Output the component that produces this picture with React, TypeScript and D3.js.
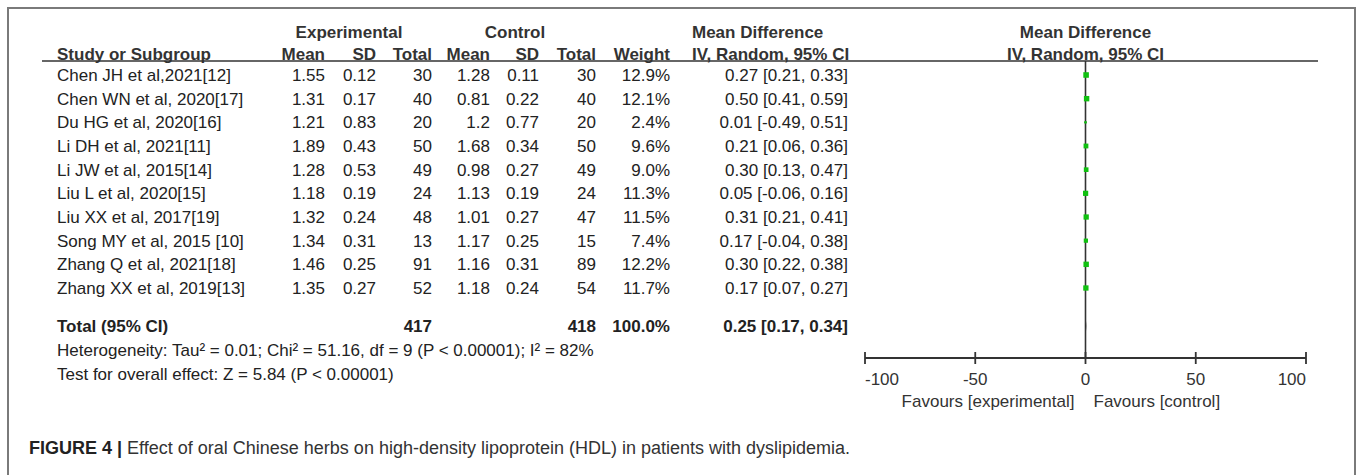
import React from 'react';
import { scaleLinear } from 'd3';

const studies = [
  'Chen JH et al,2021[12]',
  'Chen WN et al, 2020[17]',
  'Du HG et al, 2020[16]',
  'Li DH et al, 2021[11]',
  'Li JW et al, 2015[14]',
  'Liu L et al, 2020[15]',
  'Liu XX et al, 2017[19]',
  'Song MY et al, 2015 [10]',
  'Zhang Q et al, 2021[18]',
  'Zhang XX et al, 2019[13]',
];
const expMean = [1.55, 1.31, 1.21, 1.89, 1.28, 1.18, 1.32, 1.34, 1.46, 1.35];
const expSD = [0.12, 0.17, 0.83, 0.43, 0.53, 0.19, 0.24, 0.31, 0.25, 0.27];
const expN = [30, 40, 20, 50, 49, 24, 48, 13, 91, 52];
const ctrlMean = [1.28, 0.81, 1.2, 1.68, 0.98, 1.13, 1.01, 1.17, 1.16, 1.18];
const ctrlSD = [0.11, 0.22, 0.77, 0.34, 0.27, 0.19, 0.27, 0.25, 0.31, 0.24];
const ctrlN = [30, 40, 20, 50, 49, 24, 47, 15, 89, 54];
const weights = [12.9, 12.1, 2.4, 9.6, 9.0, 11.3, 11.5, 7.4, 12.2, 11.7];
const md = [0.27, 0.5, 0.01, 0.21, 0.3, 0.05, 0.31, 0.17, 0.3, 0.17];
const ciLo = [0.21, 0.41, -0.49, 0.06, 0.13, -0.06, 0.21, -0.04, 0.22, 0.07];
const ciHi = [0.33, 0.59, 0.51, 0.36, 0.47, 0.16, 0.41, 0.38, 0.38, 0.27];

const total = { expN: 417, ctrlN: 418, weight: 100.0, md: 0.25, lo: 0.17, hi: 0.34 };
const axisTicks = [-100, -50, 0, 50, 100];

const heterogeneity = 'Heterogeneity: Tau² = 0.01; Chi² = 51.16, df = 9 (P < 0.00001); I² = 82%';
const overall = 'Test for overall effect: Z = 5.84 (P < 0.00001)';
const caption = 'Effect of oral Chinese herbs on high-density lipoprotein (HDL) in patients with dyslipidemia.';

const W = 1357;
const H = 475;
const font = '"Liberation Sans", Arial, sans-serif';

// right edges of the numeric columns
const col = { study: 57, eMean: 325, eSD: 376, eN: 432, cMean: 490, cSD: 539, cN: 596, w: 670, ci: 848, ciHead: 692 };

const fmtCI = (m: number, l: number, h: number) => `${m.toFixed(2)} [${l.toFixed(2)}, ${h.toFixed(2)}]`;

export default function App() {
  const x = scaleLinear().domain([-100, 100]).range([865, 1306]);
  const y = scaleLinear().domain([0, studies.length - 1]).range([75, 288]);
  const axisY = 358;
  const ruleY = 61;

  const num = (v: string | number, xr: number, yy: number, bold = false) => (
    <text x={xr} y={yy} dy="0.35em" textAnchor="end" fontWeight={bold ? 'bold' : 'normal'}>{v}</text>
  );

  return (
    <svg width={W} height={H} style={{ position: 'absolute', left: 0, top: 0, background: '#fff' }} fontFamily={font} fontSize={17}>
      {/* frame */}
      <path d={`M8,${H + 2}V8H1355V${H + 2}`} fill="none" stroke="#7a7a7a" strokeWidth={2} />

      {/* headers */}
      <g fontWeight="bold" fill="#333">
        <text x={349} y={32} dy="0.35em" textAnchor="middle">Experimental</text>
        <text x={515} y={32} dy="0.35em" textAnchor="middle">Control</text>
        <text x={col.ciHead} y={32} dy="0.35em">Mean Difference</text>
        <text x={x(0)} y={32} dy="0.35em" textAnchor="middle">Mean Difference</text>
        <text x={col.study} y={54} dy="0.35em">Study or Subgroup</text>
        <text x={col.eMean} y={54} dy="0.35em" textAnchor="end">Mean</text>
        <text x={col.eSD} y={54} dy="0.35em" textAnchor="end">SD</text>
        <text x={col.eN} y={54} dy="0.35em" textAnchor="end">Total</text>
        <text x={col.cMean} y={54} dy="0.35em" textAnchor="end">Mean</text>
        <text x={col.cSD} y={54} dy="0.35em" textAnchor="end">SD</text>
        <text x={col.cN} y={54} dy="0.35em" textAnchor="end">Total</text>
        <text x={col.w} y={54} dy="0.35em" textAnchor="end">Weight</text>
        <text x={col.ciHead} y={54} dy="0.35em">IV, Random, 95% CI</text>
        <text x={x(0)} y={54} dy="0.35em" textAnchor="middle">IV, Random, 95% CI</text>
      </g>
      <line x1={42} x2={1318} y1={ruleY} y2={ruleY} stroke="#333" strokeWidth={1.6} />

      {/* study rows */}
      <g fill="#222">
        {studies.map((s, i) => (
          <g key={s}>
            <text x={col.study} y={y(i)} dy="0.35em">{s}</text>
            {num(String(expMean[i]), col.eMean, y(i))}
            {num(String(expSD[i]), col.eSD, y(i))}
            {num(expN[i], col.eN, y(i))}
            {num(String(ctrlMean[i]), col.cMean, y(i))}
            {num(String(ctrlSD[i]), col.cSD, y(i))}
            {num(ctrlN[i], col.cN, y(i))}
            {num(`${weights[i].toFixed(1)}%`, col.w, y(i))}
            {num(fmtCI(md[i], ciLo[i], ciHi[i]), col.ci, y(i))}
          </g>
        ))}
      </g>

      {/* total row */}
      <g fill="#222">
        <text x={col.study} y={326} dy="0.35em" fontWeight="bold">Total (95% CI)</text>
        {num(total.expN, col.eN, 326, true)}
        {num(total.ctrlN, col.cN, 326, true)}
        {num(`${total.weight.toFixed(1)}%`, col.w, 326, true)}
        {num(fmtCI(total.md, total.lo, total.hi), col.ci, 326, true)}
        <text x={col.study} y={350} dy="0.35em">{heterogeneity}</text>
        <text x={col.study} y={374} dy="0.35em">{overall}</text>
      </g>

      {/* forest plot */}
      <line x1={x(0)} x2={x(0)} y1={ruleY} y2={axisY} stroke="#333" strokeWidth={1.6} />
      {studies.map((s, i) => {
        const side = 1.55 * Math.sqrt(weights[i]);
        return (
          <g key={`m${s}`}>
            <line x1={x(ciLo[i])} x2={x(ciHi[i])} y1={y(i)} y2={y(i)} stroke="#222" strokeWidth={1} />
            <rect x={x(md[i]) - side / 2} y={y(i) - side / 2} width={side} height={side} fill="#10c010" />
          </g>
        );
      })}
      <path
        d={`M${x(total.lo)},326L${x(total.md)},321L${x(total.hi)},326L${x(total.md)},331Z`}
        fill="#000"
      />

      {/* axis */}
      <g stroke="#333" strokeWidth={1.8}>
        <line x1={x(-100)} x2={x(100)} y1={axisY} y2={axisY} />
        {axisTicks.map((t) => (
          <line key={t} x1={x(t)} x2={x(t)} y1={axisY - 6} y2={axisY + 6} />
        ))}
      </g>
      <g fill="#333">
        {axisTicks.map((t, i) => (
          <text
            key={t}
            x={x(t)}
            y={axisY + 21}
            dy="0.35em"
            textAnchor={i === 0 ? 'start' : i === axisTicks.length - 1 ? 'end' : 'middle'}
          >
            {t}
          </text>
        ))}
        <text x={x(0) - 11} y={axisY + 43} dy="0.35em" textAnchor="end">Favours [experimental]</text>
        <text x={x(0) + 8} y={axisY + 43} dy="0.35em">Favours [control]</text>
      </g>

      {/* caption */}
      <text x={29} y={448} dy="0.35em" fontSize={18} fill="#333">
        <tspan fontWeight="bold" fill="#222">FIGURE 4 |</tspan>
        <tspan> {caption}</tspan>
      </text>
    </svg>
  );
}
